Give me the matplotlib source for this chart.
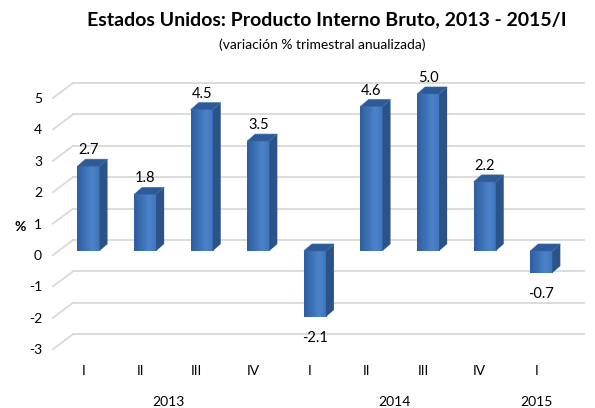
import numpy as np
import matplotlib
matplotlib.use('Agg')
import matplotlib.pyplot as plt
from matplotlib.patches import Polygon
from matplotlib.lines import Line2D
from matplotlib.transforms import Affine2D, blended_transform_factory
from matplotlib.colors import LinearSegmentedColormap

# data
quarters = ['I', 'II', 'III', 'IV', 'I', 'II', 'III', 'IV', 'I']
growth = [2.7, 1.8, 4.5, 3.5, -2.1, 4.6, 5.0, 2.2, -0.7]
years = ['2013', '2014', '2015']
year_pos = [1.5, 5.5, 8]
y_ticks = list(range(-3, 6))

plt.rcParams['font.family'] = ['Lato', 'DejaVu Sans']

W, H, DPI = 595, 408, 100
fig = plt.figure(figsize=(W / DPI, H / DPI), dpi=DPI)

# plot area (bar plane) in pixel units of the image
px_left, px_right = 73, 584
ylo, yhi = -3.5, 5.6
zero_px, unit_px = 251, 31.4
px_top = zero_px - unit_px * yhi
px_bot = zero_px - unit_px * ylo
ax = fig.add_axes([px_left / W, (H - px_bot) / H,
                   (px_right - px_left) / W, (px_bot - px_top) / H])

step_px, first_px = 56.6, 88.5
ax.set_xlim((px_left - first_px) / step_px, (px_right - first_px) / step_px)
ax.set_ylim(ylo, yhi)
for s in ax.spines.values():
    s.set_visible(False)

grid_col = '#d9d9d9'
back_dy = 11      # back wall is above the bar plane (px)
front_dx, front_dy = -20, -15   # wall corner to floor front (px)

# back wall gridlines + diagonal side wall lines
back = blended_transform_factory(ax.transAxes, ax.transData) + Affine2D().translate(0, back_dy)
for v in y_ticks:
    ax.plot([0, 1], [v, v], color=grid_col, lw=1.3, transform=back, zorder=1, clip_on=False)
    p = back.transform((0, v))
    fig.add_artist(Line2D([p[0], p[0] + front_dx], [p[1], p[1] + front_dy],
                          color=grid_col, lw=1.3, transform=None))

# 3d-looking bars
bw = 0.39
dx = 8 / step_px
dy = 7 / unit_px
cmap = LinearSegmentedColormap.from_list('bar', ['#2f5f9f', '#3c70b4', '#4b83cb', '#3f74ba'])
grad = np.linspace(0, 1, 64).reshape(1, -1)
for i, v in enumerate(growth):
    x0, x1 = i - bw / 2, i + bw / 2
    lo, hi = min(v, 0), max(v, 0)
    ax.imshow(grad, cmap=cmap, extent=(x0, x1, lo, hi), aspect='auto', zorder=3)
    ax.add_patch(Polygon([(x1, lo), (x1 + dx, lo + dy), (x1 + dx, hi + dy), (x1, hi)],
                         closed=True, fc='#2b5388', ec='none', zorder=3))
    ax.add_patch(Polygon([(x0, hi), (x0 + dx, hi + dy), (x1 + dx, hi + dy), (x1, hi)],
                         closed=True, fc='#2e5b97', ec='#3a6aa8', lw=0.5, zorder=3))
    if v >= 0:
        ax.text(i, v + 16 / unit_px, f'{v:.1f}', ha='center', va='center', fontsize=10.5, zorder=4)
    else:
        ax.text(i, v - 21 / unit_px, f'{v:.1f}', ha='center', va='center', fontsize=10.5, zorder=4)
ax.set_xlim((px_left - first_px) / step_px, (px_right - first_px) / step_px)
ax.set_ylim(ylo, yhi)

# axis labels on the front plane
ax.set_yticks(y_ticks)
ax.set_yticklabels([str(t) for t in y_ticks], fontsize=10)
ax.tick_params(axis='y', length=0, pad=31 * 72 / DPI)
for lbl in ax.get_yticklabels():
    lbl.set_transform(lbl.get_transform() + Affine2D().translate(0, -4))

ax.set_xticks(range(len(quarters)))
ax.set_xticklabels(quarters, fontsize=10)
ax.tick_params(axis='x', length=0, pad=4 * 72 / DPI)
for lbl in ax.get_xticklabels():
    lbl.set_transform(lbl.get_transform() + Affine2D().translate(-5, 0))

yr_trans = blended_transform_factory(ax.transData, fig.transFigure) + Affine2D().translate(-5, 0)
for yr, xp in zip(years, year_pos):
    ax.text(xp, (H - 402) / H, yr, ha='center', va='center', fontsize=10, transform=yr_trans)

fig.text(20 / W, (H - 227) / H, '%', ha='center', va='center', fontsize=10, fontweight='bold')

fig.text(327 / W, (H - 20) / H, 'Estados Unidos: Producto Interno Bruto, 2013 - 2015/I',
         ha='center', va='center', fontsize=14, fontweight='bold')
fig.text(322 / W, (H - 45) / H, '(variación % trimestral anualizada)',
         ha='center', va='center', fontsize=10)

fig.savefig('out.png', dpi=DPI, facecolor='white')
